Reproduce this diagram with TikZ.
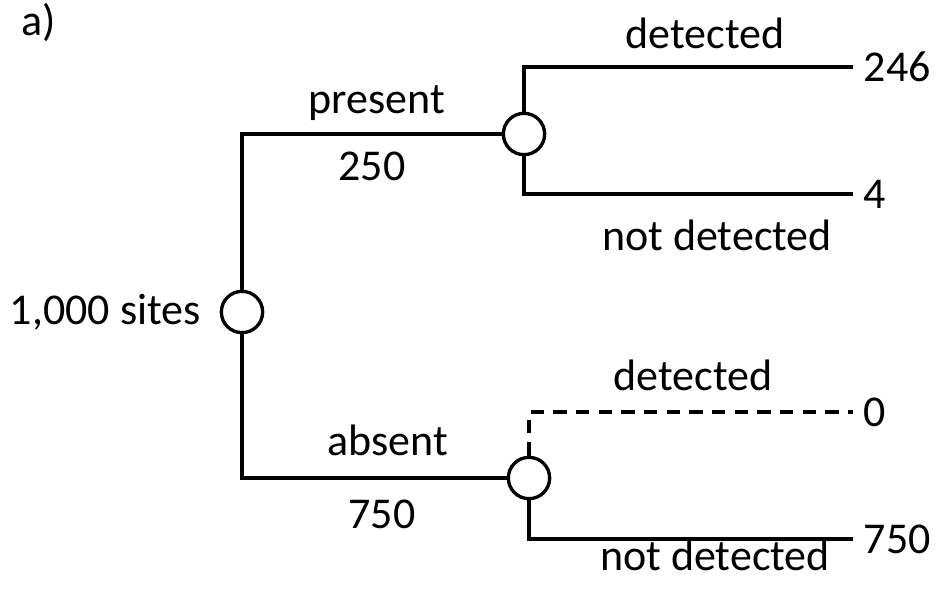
\documentclass[tikz,border=0pt]{standalone}
\usepackage{fontspec}
\setmainfont{Carlito}
\usepackage{tikz}
\usetikzlibrary{positioning}

\begin{document}
\begin{tikzpicture}
    [x=0.75pt,y=-0.75pt,
      every node/.style={font=\fontsize{33}{39}\selectfont},
      chance/.style={circle,draw,line width=2.5pt,minimum size=31pt,inner sep=0pt},
      branch/.style={line width=2.5pt},
      notseen/.style={line width=2.5pt,dash pattern=on 10pt off 7pt},
      count/.style={anchor=west,inner sep=8pt},
      lbl/.style={anchor=base,inner sep=0pt}]
    \useasboundingbox (0,0) rectangle (938,604);
    \node[lbl] (tag) at (39,35) {a)};
    % chance nodes
    \node[chance] (root) at (242,312) {};
    \node[chance] (pres) at (524,134) {};
    \node[chance] (abs) at (529,478) {};
    \node (sites) [left=14pt of root,inner sep=0pt] {1,000 sites};
    % end counts
    \node[count] (n246) at (853,67) {246};
    \node[count] (n4) at (853,194) {4};
    \node[count] (n0) at (853,412) {0};
    \node[count] (n750) at (853,539) {750};
    % branches
    \draw[branch] (root.north) |- (pres.west);
    \draw[branch] (root.south) |- (abs.west);
    \draw[branch] (pres.north) |- (n246.west);
    \draw[branch] (pres.south) |- (n4.west);
    \draw[notseen] (abs.north) |- (n0.west);
    \draw[branch] (abs.south) |- (n750.west);
    % branch labels
    \node[lbl] (lpres) at (377,113) {present};
    \node[lbl] (l250) at (372,180) {250};
    \node[lbl] (labs) at (388,455) {absent};
    \node[lbl] (l750) at (382,528) {750};
    \node[lbl] (ldet1) at (705,48) {detected};
    \node[lbl] (lnot1) at (717,250) {not detected};
    \node[lbl] (ldet2) at (693,390) {detected};
    \node[lbl] (lnot2) at (715,570) {not detected};
\end{tikzpicture}
\end{document}
